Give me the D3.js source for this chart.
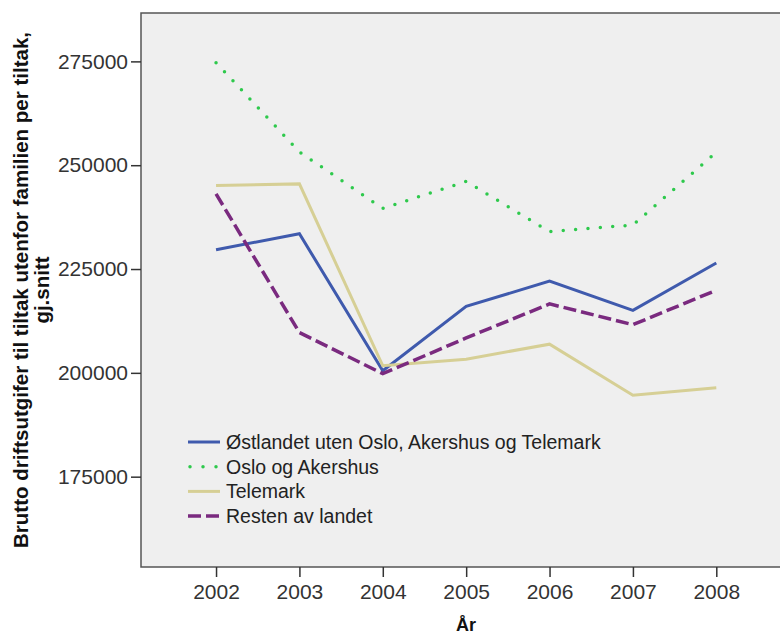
<!DOCTYPE html>
<meta charset="utf-8">
<style>
body { margin: 0; background: #fff; }
svg { display: block; font-family: "Liberation Sans", Arial, sans-serif; }
.frame { fill: #efefef; stroke: #555; stroke-width: 1.5px; }
.axis path { display: none; }
.axis line { stroke: #333; stroke-width: 1.5px; }
.axis text { font-size: 21px; fill: #333; }
.title { font-weight: bold; fill: #111; }
.legend text { font-size: 19.5px; fill: #222; }
</style>
<body>
<script src="https://cdn.jsdelivr.net/npm/d3@7"></script>
<script>
var width = 780,
    height = 635;

// data
var years = [2002, 2003, 2004, 2005, 2006, 2007, 2008];
var ostlandet = [229650, 233500, 200500, 216000, 222100, 215050, 226450];
var osloAkershus = [274700, 253200, 239600, 246100, 234000, 235600, 253100];
var telemark = [245100, 245500, 201700, 203300, 206900, 194600, 196400];
var resten = [243100, 209700, 199800, 208400, 216600, 211600, 219900];
var yTicks = [175000, 200000, 225000, 250000, 275000];

var seriesNames = ["Østlandet uten Oslo, Akershus og Telemark", "Oslo og Akershus", "Telemark", "Resten av landet"];
var seriesValues = [ostlandet, osloAkershus, telemark, resten];
var seriesColors = ["#3f5aad", "#2ec94c", "#d6cf95", "#7a2a7f"];
var seriesDash = [null, "0,12.4", null, "13,5"];
var seriesWidth = [3, 3.5, 3, 3.5];

// plot frame (right side runs past the window edge)
var pLeft = 141, pTop = 13, pBottom = 567, pRight = 783;

var x = d3.scaleLinear().domain([2001.1, 2008.8]).range([pLeft, pRight]);
var y = d3.scaleLinear().domain([153250, 286650]).range([pBottom, pTop]);

var svg = d3.select("body").append("svg")
    .attr("width", width)
    .attr("height", height);

svg.append("rect")
    .attr("class", "frame")
    .attr("x", pLeft)
    .attr("y", pTop)
    .attr("width", pRight - pLeft)
    .attr("height", pBottom - pTop);

svg.append("g")
    .attr("class", "axis")
    .attr("transform", "translate(" + pLeft + ",0)")
    .call(d3.axisLeft(y).tickValues(yTicks).tickSize(10).tickPadding(3).tickFormat(d3.format("d")));

svg.append("g")
    .attr("class", "axis")
    .attr("transform", "translate(0," + pBottom + ")")
    .call(d3.axisBottom(x).tickValues(years).tickSize(10).tickPadding(7).tickFormat(d3.format("d")));

var line = d3.line()
    .x(function(d, i) { return x(years[i]); })
    .y(function(d) { return y(d); });

seriesValues.forEach(function(vals, k) {
  svg.append("path")
      .datum(vals)
      .attr("d", line)
      .attr("fill", "none")
      .attr("stroke", seriesColors[k])
      .attr("stroke-width", seriesWidth[k])
      .attr("stroke-dasharray", seriesDash[k])
      .attr("stroke-linecap", k === 1 ? "round" : "butt")
      .attr("stroke-linejoin", "miter");
});

// legend
var legend = svg.append("g").attr("class", "legend");
seriesNames.forEach(function(name, k) {
  var ly = 442 + k * 24.7;
  legend.append("line")
      .attr("x1", k === 1 ? 190 : 188).attr("x2", 220)
      .attr("y1", ly).attr("y2", ly)
      .attr("stroke", seriesColors[k])
      .attr("stroke-width", seriesWidth[k])
      .attr("stroke-dasharray", k === 1 ? "0,13" : seriesDash[k])
      .attr("stroke-linecap", k === 1 ? "round" : "butt");
  legend.append("text")
      .attr("x", 226)
      .attr("y", ly + 7)
      .text(name);
});

// axis titles
svg.append("text")
    .attr("class", "title")
    .attr("x", 466)
    .attr("y", 631)
    .attr("text-anchor", "middle")
    .style("font-size", "18px")
    .text("År");

var yt = svg.append("text")
    .attr("class", "title")
    .attr("transform", "translate(0,290) rotate(-90)")
    .attr("text-anchor", "middle")
    .style("font-size", "20.5px");
yt.append("tspan").attr("x", 0).attr("y", 28).text("Brutto driftsutgifer til tiltak utenfor familien per tiltak,");
yt.append("tspan").attr("x", 0).attr("y", 49).text("gj.snitt");
</script>
